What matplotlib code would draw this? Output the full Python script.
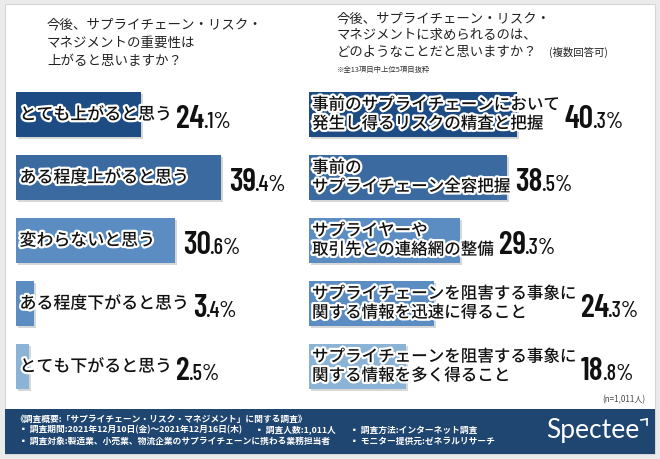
import matplotlib
matplotlib.use('Agg')
import matplotlib.pyplot as plt
import matplotlib.patheffects as pe
from matplotlib import font_manager
from matplotlib.patches import Rectangle
from matplotlib.transforms import offset_copy

plt.rcParams['font.family'] = ['Noto Sans CJK JP', 'DejaVu Sans']

# data
left_labels = ['とても上がると思う', 'ある程度上がると思う', '変わらないと思う',
               'ある程度下がると思う', 'とても下がると思う']
left_values = [24.1, 39.4, 30.6, 3.4, 2.5]

right_labels = ['事前のサプライチェーンにおいて\n発生し得るリスクの精査と把握',
                '事前の\nサプライチェーン全容把握',
                'サプライヤーや\n取引先との連絡網の整備',
                'サプライチェーンを阻害する事象に\n関する情報を迅速に得ること',
                'サプライチェーンを阻害する事象に\n関する情報を多く得ること']
right_values = [40.3, 38.5, 29.3, 24.3, 18.8]

bar_colors = ['#1d4b83', '#3a6a9f', '#5b8dc3', '#5b8dc3', '#8ab3d6']

W, H = 660, 460
names = {f.name for f in font_manager.fontManager.ttflist}
num_font = 'Barlow Condensed' if 'Barlow Condensed' in names else 'DejaVu Sans'

fig = plt.figure(figsize=(W / 100, H / 100), dpi=100)
fig.patch.set_facecolor('#ebebeb')


def fx(px):
    return px / W


def fy(py):
    return 1 - py / H


# white panel and footer band
fig.patches.append(Rectangle((fx(5), fy(455)), fx(650), 450 / H, transform=fig.transFigure,
                             facecolor='white', edgecolor='#d6d6d6', lw=0.8, zorder=0))
fig.patches.append(Rectangle((fx(5), fy(455)), fx(650), 45 / H, transform=fig.transFigure,
                             facecolor='#1f4571', edgecolor='none', zorder=1))

# titles
left_title = ['今後、サプライチェーン・リスク・', 'マネジメントの重要性は', '上がると思いますか？']
for k, line in enumerate(left_title):
    fig.text(fx(47), fy(24.5 + 18.5 * k), line, fontsize=9.7, va='center', color='#222')

right_title = ['今後、サプライチェーン・リスク・', 'マネジメントに求められるのは、',
               'どのようなことだと思いますか？']
for k, line in enumerate(right_title):
    fig.text(fx(337), fy(18 + 17 * k), line, fontsize=9.6, va='center', color='#222')
fig.text(fx(549), fy(52), '(複数回答可)', fontsize=7.5, va='center', color='#222')
fig.text(fx(337), fy(70), '※全13項目中上位5項目抜粋', fontsize=5.3, va='center', color='#333')
fig.text(fx(645), fy(400), '(n=1,011人)', fontsize=5.8, va='center', ha='right', color='#444')

# footer text
foot = dict(fontsize=6.3, color='white', va='center', fontweight='bold')
fig.text(fx(15), fy(419), '《調査概要:「サプライチェーン・リスク・マネジメント」に関する調査》', **foot)
fig.text(fx(19), fy(430), '▪ 調査期間:2021年12月10日(金)～2021年12月16日(木)', **foot)
fig.text(fx(255), fy(430), '▪ 調査人数:1,011人', **foot)
fig.text(fx(350), fy(430), '▪ 調査方法:インターネット調査', **foot)
fig.text(fx(19), fy(441), '▪ 調査対象:製造業、小売業、物流企業のサプライチェーンに携わる業務担当者', **foot)
fig.text(fx(350), fy(441), '▪ モニター提供元:ゼネラルリサーチ', **foot)
fig.text(fx(546), fy(431), 'Spectee', fontsize=19, color='white', va='center',
         family=['Lato', 'DejaVu Sans'])
fig.add_artist(plt.Line2D([fx(641), fx(647)], [fy(421), fy(420)], color='white', lw=1.2))
fig.add_artist(plt.Line2D([fx(647), fx(647)], [fy(420), fy(426)], color='white', lw=1.2))

# axes: 5 slots of ~63 px between y=84 and y=399
ax_b, ax_h = 1 - 399 / H, 315 / H
axL = fig.add_axes([fx(16), ax_b, 60 * 5.2 / W, ax_h])
axR = fig.add_axes([fx(309), ax_b, 60 * 5.15 / W, ax_h])

stroke = [pe.withStroke(linewidth=3.2, foreground='white')]
shadow = [pe.SimplePatchShadow(offset=(1.5, -1.5), shadow_rgbFace='#b0b0b0', alpha=0.5), pe.Normal()]

panels = [(axL, left_labels, left_values, 12.2, 3.5),
          (axR, right_labels, right_values, 11.9, 3)]
label_artists = []
for ax, labels, values, fs, dx in panels:
    ax.set_zorder(3)
    ax.set_xlim(0, 60)
    ax.set_ylim(4.5, -0.5)
    ax.axis('off')
    ax.patch.set_alpha(0)
    bars = ax.barh(range(len(values)), values, height=0.715, color=bar_colors, zorder=2)
    for b in bars:
        b.set_path_effects(shadow)
    tr = offset_copy(ax.transData, fig=fig, x=dx, y=0, units='dots')
    arts = []
    for i, lab in enumerate(labels):
        t = ax.text(0, i, lab, transform=tr, fontsize=fs, va='center', ha='left',
                    color='#111', fontweight='medium', linespacing=1.15,
                    path_effects=stroke, zorder=4)
        arts.append(t)
    label_artists.append(arts)

fig.canvas.draw()
renderer = fig.canvas.get_renderer()

# percentage numbers placed after bar or label, whichever ends later
for (ax, labels, values, fs, dx), arts in zip(panels, label_artists):
    tb = offset_copy(ax.transData, fig=fig, x=0, y=-12.5, units='dots')
    for i, (v, t) in enumerate(zip(values, arts)):
        lab_end = t.get_window_extent(renderer).x1
        bar_end = ax.transData.transform((v, i))[0]
        start = max(lab_end + 5, bar_end + 8)
        x0 = ax.transData.inverted().transform((start, 0))[0]
        whole, frac = f'{v:.1f}'.split('.')
        big = ax.text(x0, i, whole, transform=tb, fontsize=23, fontweight=600,
                      family=num_font, va='baseline', ha='left', color='#111')
        fig.canvas.draw()
        x1 = big.get_window_extent(renderer).x1 - 1.5
        x1d = ax.transData.inverted().transform((x1, 0))[0]
        ax.text(x1d, i, '.' + frac + '%', transform=tb, fontsize=16, fontweight=500,
                family=num_font, va='baseline', ha='left', color='#111')

fig.savefig('out.png', dpi=100, facecolor=fig.get_facecolor())
